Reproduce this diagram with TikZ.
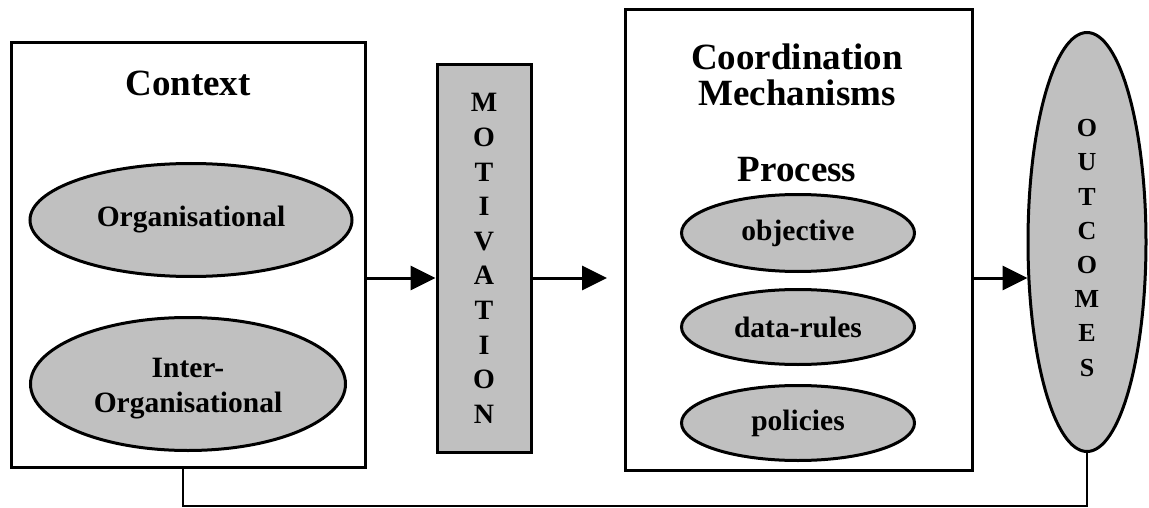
\documentclass[tikz,border=0pt]{standalone}
\usepackage{fontspec}
\setmainfont{Liberation Serif}
\usetikzlibrary{shapes.geometric,arrows.meta}
\begin{document}
\begin{tikzpicture}[x=1pt,y=-1pt,
  box/.style={draw,line width=3pt,rectangle,inner sep=0pt},
  oval/.style={draw,line width=3pt,ellipse,fill=boxgray,inner sep=0pt,align=center,font=\fontsize{29.5}{35}\selectfont\bfseries},
  title/.style={font=\fontsize{37}{36}\selectfont\bfseries,align=center,inner sep=0pt},
  vtext/.style={align=center,inner sep=0pt},
  conn/.style={line width=3pt,-{Triangle[length=25pt,width=24pt]}},
  fb/.style={line width=2.2pt}
]
\definecolor{boxgray}{RGB}{192,192,192}
\useasboundingbox (0,0) rectangle (1149,508);
% Context
\node[box,minimum width=354pt,minimum height=424pt] (ctx) at (188,255) {};
\node[title] (ctxt) at (188,83) {Context};
\node[oval,minimum width=322pt,minimum height=113pt] (org) at (191,220) {Organisational};
\node[oval,minimum width=315pt,minimum height=133pt] (inter) at (188,384) {};
\node[vtext,font=\fontsize{29.5}{35}\selectfont\bfseries] (intert) at (188,389) {Inter-\\Organisational};
% Motivation
\node[box,fill=boxgray,minimum width=94pt,minimum height=387pt,align=center,
  font=\fontsize{28}{34.6}\selectfont\bfseries] (mot) at (484,258.5)
  {M\\O\\T\\I\\V\\A\\T\\I\\O\\N};
% Coordination
\node[box,minimum width=347pt,minimum height=460pt] (coord) at (798.5,240) {};
\node[title] (coordt) at (797,75) {Coordination\\Mechanisms};
\node[title] (proc) at (797,170) {Process};
\node[oval,minimum width=233pt,minimum height=77pt] (obj) at (798,233) {objective};
\node[oval,minimum width=233pt,minimum height=75pt] (data) at (798,327) {data-rules};
\node[oval,minimum width=233pt,minimum height=75pt] (pol) at (798,423) {policies};
% Outcomes
\node[oval,minimum width=118pt,minimum height=419pt] (out) at (1087,242) {};
\node[vtext,font=\fontsize{26}{34.2}\selectfont\bfseries] (outt) at (1087,248)
  {O\\U\\T\\C\\O\\M\\E\\S};
% connectors
\coordinate (a1) at (ctx.east |- 0,278);
\coordinate (a2) at (mot.west |- 0,278);
\coordinate (a3) at (mot.east |- 0,278);
\coordinate (a4) at (607,278);
\coordinate (a5) at (coord.east |- 0,278);
\coordinate (a6) at (out.west |- 0,278);
\draw[conn] (a1) -- (a2);
\draw[conn] (a3) -- (a4);
\draw[conn] (a5) -- ([xshift=1pt]a6);
\coordinate (f1) at (183,0 |- ctx.south);
\coordinate (f2) at (183,506);
\draw[fb] (f1) -- (f2) -| (out.south);
\end{tikzpicture}
\end{document}
